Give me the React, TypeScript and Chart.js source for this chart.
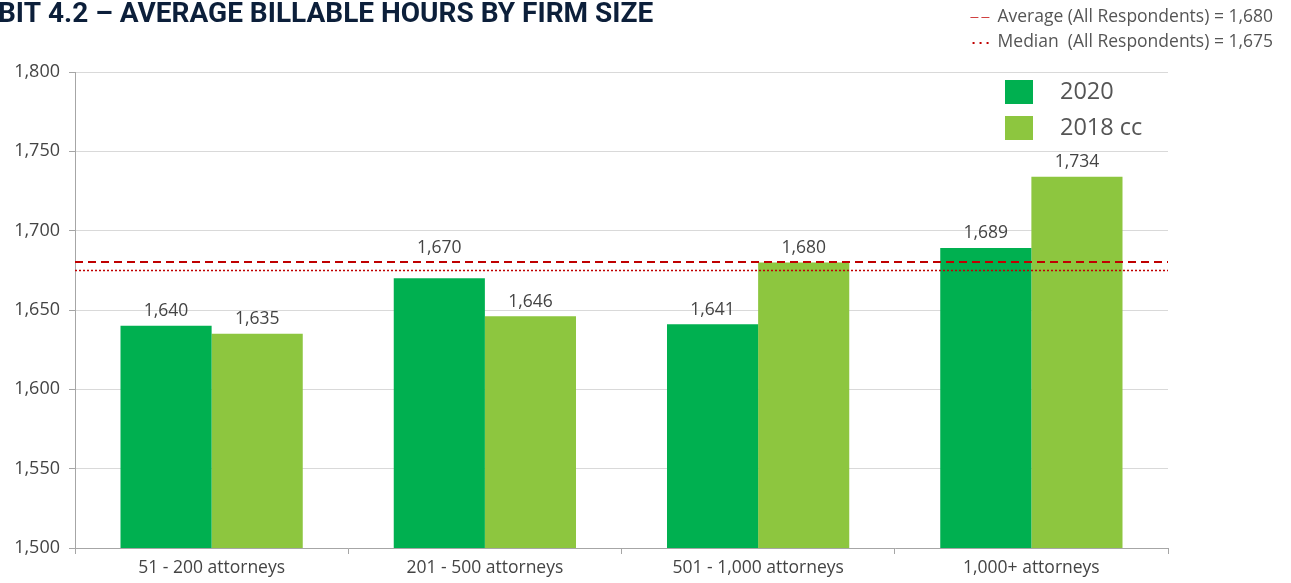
import React, { useEffect, useRef } from "react";
import { Chart, registerables } from "chart.js";

Chart.register(...registerables);

const categories = ["51 - 200 attorneys", "201 - 500 attorneys", "501 - 1,000 attorneys", "1,000+ attorneys"];
const series2020 = [1640, 1670, 1641, 1689];
const series2018 = [1635, 1646, 1680, 1734];
const seriesNames = ["2020", "2018 cc"];
const averageAll = 1680;
const medianAll = 1675;
const yTicks = [1500, 1550, 1600, 1650, 1700, 1750, 1800];
const title = "BIT 4.2 – AVERAGE BILLABLE HOURS BY FIRM SIZE";
const noteAverage = "Average (All Respondents) = 1,680";
const noteMedian = "Median  (All Respondents) = 1,675";

const DARK = "#00b050";
const LIGHT = "#8dc63f";
const RED = "#c00000";
const TEXT = "#444444";
const FONT = "'Open Sans', Lato, sans-serif";

const fmt = (v: number) => v.toLocaleString("en-US");

const overlayPlugin = {
  id: "overlay",
  afterDatasetsDraw(chart: any) {
    const ctx = chart.ctx;
    const y = chart.scales.y;
    const area = chart.chartArea;
    ctx.save();
    // reference lines
    ctx.strokeStyle = RED;
    ctx.lineWidth = 2;
    ctx.setLineDash([8, 5]);
    ctx.beginPath();
    const ya = Math.round(y.getPixelForValue(averageAll));
    ctx.moveTo(area.left, ya);
    ctx.lineTo(area.right, ya);
    ctx.stroke();
    ctx.setLineDash([2, 2]);
    ctx.lineWidth = 1.5;
    ctx.beginPath();
    const ym = Math.round(y.getPixelForValue(medianAll)) + 0.5;
    ctx.moveTo(area.left, ym);
    ctx.lineTo(area.right, ym);
    ctx.stroke();
    ctx.setLineDash([]);

    // data labels
    ctx.fillStyle = TEXT;
    ctx.font = `17.5px ${FONT}`;
    ctx.textAlign = "center";
    ctx.textBaseline = "bottom";
    chart.data.datasets.forEach((ds: any, i: number) => {
      const meta = chart.getDatasetMeta(i);
      meta.data.forEach((bar: any, j: number) => {
        let base = bar.y - 6;
        // keep labels clear of the reference lines
        if (base > ya - 4 && base - 20 < ym + 2 && bar.y > ya) base = ya - 5;
        ctx.fillText(fmt(ds.data[j]), bar.x, base);
      });
    });

    // legend
    const colors = [DARK, LIGHT];
    ctx.font = `23.5px ${FONT}`;
    ctx.textAlign = "left";
    ctx.textBaseline = "middle";
    seriesNames.forEach((n, i) => {
      const top = 80 + i * 36;
      ctx.fillStyle = colors[i];
      ctx.fillRect(1005, top, 28, 24);
      ctx.fillStyle = "#555555";
      ctx.fillText(n, 1060, top + 12);
    });

    // title
    ctx.fillStyle = "#0c1f3a";
    ctx.font = `bold 28px Roboto, sans-serif`;
    ctx.textAlign = "left";
    ctx.textBaseline = "middle";
    ctx.fillText(title, -2, 15);

    // notes
    ctx.font = `17.5px ${FONT}`;
    ctx.fillStyle = "#555555";
    ctx.textAlign = "right";
    ctx.fillText(noteAverage, 1273, 17);
    ctx.fillText(noteMedian, 1273, 42);
    const w1 = ctx.measureText(noteAverage).width;
    const w2 = ctx.measureText(noteMedian).width;
    ctx.strokeStyle = "#d04040";
    ctx.lineWidth = 1;
    ctx.setLineDash([8, 3]);
    ctx.beginPath();
    ctx.moveTo(1273 - w1 - 27, 17.5);
    ctx.lineTo(1273 - w1 - 5, 17.5);
    ctx.stroke();
    ctx.setLineDash([]);
    ctx.fillStyle = RED;
    for (let k = 0; k < 3; k++) {
      ctx.fillRect(1273 - w2 - 25 + k * 7, 42, 2, 2);
    }
    ctx.restore();
  },
};

export default function App() {
  const ref = useRef<HTMLCanvasElement>(null);
  useEffect(() => {
    if (!ref.current) return;
    const chart = new Chart(ref.current, {
      type: "bar",
      data: {
        labels: categories,
        datasets: [
          { label: seriesNames[0], data: series2020, backgroundColor: DARK },
          { label: seriesNames[1], data: series2018, backgroundColor: LIGHT },
        ],
      },
      options: {
        responsive: false,
        animation: false,
        layout: { padding: { left: 0, right: 123, top: 72, bottom: 0 } },
        plugins: { legend: { display: false }, title: { display: false }, tooltip: { enabled: false } },
        datasets: { bar: { categoryPercentage: 0.667, barPercentage: 1 } },
        scales: {
          x: {
            grid: { display: true, drawOnChartArea: false, color: "#a6a6a6", tickLength: 6, offset: true },
            border: { color: "#a6a6a6" },
            ticks: { color: TEXT, font: { size: 17.5, family: FONT }, padding: 4 },
            afterFit: (s: any) => { s.height = 35; },
          },
          y: {
            min: 1500,
            max: 1800,
            afterBuildTicks: (s: any) => { s.ticks = yTicks.map((v) => ({ value: v })); },
            grid: { color: "#d9d9d9", tickLength: 6, tickColor: "#a6a6a6" },
            border: { color: "#a6a6a6" },
            ticks: { color: TEXT, font: { size: 18, family: FONT }, padding: 9, callback: (v: any) => fmt(Number(v)) },
            afterFit: (s: any) => { s.width = 75; },
          },
        },
      },
      plugins: [overlayPlugin],
    });
    return () => chart.destroy();
  }, []);
  return (
    <div style={{ position: "fixed", left: 0, top: 0, width: 1291, height: 583, background: "#fff" }}>
      <canvas ref={ref} width={1291} height={583} style={{ width: 1291, height: 583 }} />
    </div>
  );
}
